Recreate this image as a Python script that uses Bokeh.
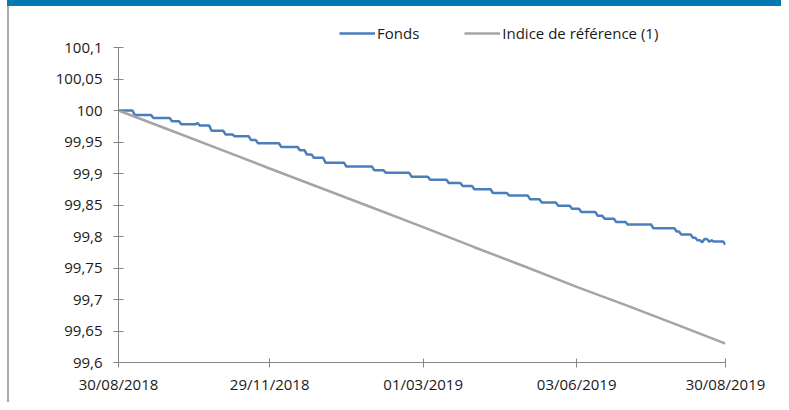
from bokeh.plotting import figure
from bokeh.models import Range1d, FixedTicker, Legend, LegendItem
from bokeh.embed import file_html
from bokeh.resources import INLINE

# --- data (business-day index from 30/08/2018) ---
x_tick_days = [0, 65, 131, 197, 261]
x_tick_labels = ["30/08/2018", "29/11/2018", "01/03/2019", "03/06/2019", "30/08/2019"]

y_ticks = [99.6, 99.65, 99.7, 99.75, 99.8, 99.85, 99.9, 99.95, 100.0, 100.05, 100.1]
y_labels = ["99,6", "99,65", "99,7", "99,75", "99,8", "99,85", "99,9", "99,95", "100", "100,05", "100,1"]

fonds_day = [0, 7, 15, 23, 27, 34, 35, 40, 46, 50, 57, 60, 70, 78, 81, 84, 89, 98, 110, 115,
             126, 134, 142, 148, 153, 161, 168, 177, 182, 189, 195, 199, 206, 209, 214, 219,
             230, 240, 242, 247, 249, 251, 252, 254, 255, 256, 261]
fonds_val = [100.000, 99.993, 99.988, 99.983, 99.978, 99.980, 99.976, 99.968, 99.962, 99.959,
             99.953, 99.948, 99.942, 99.937, 99.930, 99.925, 99.917, 99.911, 99.905, 99.901,
             99.895, 99.890, 99.885, 99.880, 99.875, 99.869, 99.865, 99.859, 99.854, 99.849,
             99.844, 99.839, 99.833, 99.828, 99.823, 99.819, 99.813, 99.808, 99.803, 99.798,
             99.794, 99.791, 99.796, 99.792, 99.794, 99.792, 99.787]

indice_day = [0, 22, 44, 65, 87, 109, 131, 153, 175, 197, 219, 240, 261]
indice_val = [100.000, 99.969, 99.938, 99.908, 99.877, 99.846, 99.815, 99.783, 99.752,
              99.720, 99.690, 99.660, 99.630]

# build the stepped Fonds path (each change spread over one business day)
fx, fy = [fonds_day[0]], [fonds_val[0]]
for i in range(1, len(fonds_day)):
    fx += [fonds_day[i] - 1, fonds_day[i]]
    fy += [fonds_val[i - 1], fonds_val[i]]

FONT = "Open Sans"
AXIS_COL = "#868686"
TXT_COL = "#1a1a1a"

FRAME_TOP = 10          # px from top of figure
FRAME_BOTTOM = 362      # px from top of figure
Y_MIN, Y_MAX_TICK = 99.6, 100.1
PX_PER_UNIT = 630.0
y_top = Y_MIN + (FRAME_BOTTOM - FRAME_TOP) / PX_PER_UNIT

p = figure(width=781, height=402, output_backend="svg", toolbar_location=None,
           x_range=Range1d(0, 261), y_range=Range1d(Y_MIN, y_top),
           min_border_left=118, min_border_right=56, min_border_top=FRAME_TOP,
           min_border_bottom=402 - FRAME_BOTTOM)
p.outline_line_color = None
p.grid.visible = False
p.background_fill_color = "white"
p.border_fill_color = None
# page decoration: blue title band (cut at the top) and the grey frame line on the left
p.styles = {
    "background": "linear-gradient(#0479b2, #0479b2) 7px 0 / 100% 6px no-repeat, "
                  "linear-gradient(#a9a9a9, #a9a9a9) 7px 6px / 2px 100% no-repeat, #ffffff"
}

r_fonds = p.line(fx, fy, line_color="#4a7ebb", line_width=2.5)
r_ind = p.line(indice_day, indice_val, line_color="#a5a5a5", line_width=2.5)

# axes
for ax in (p.xaxis[0], p.yaxis[0]):
    ax.axis_line_color = AXIS_COL
    ax.major_tick_line_color = AXIS_COL
    ax.minor_tick_line_color = None
    ax.major_label_text_font = FONT
    ax.major_label_text_font_size = "15px"
    ax.major_label_text_color = TXT_COL

p.xaxis.ticker = FixedTicker(ticks=x_tick_days)
p.xaxis.major_label_overrides = dict(zip(x_tick_days, x_tick_labels))
p.xaxis.major_tick_in = 4
p.xaxis.major_tick_out = 5
p.xaxis.major_label_standoff = 6

p.yaxis.ticker = FixedTicker(ticks=y_ticks)
p.yaxis.major_label_overrides = dict(zip(y_ticks, y_labels))
p.yaxis.bounds = (Y_MIN, Y_MAX_TICK)
p.yaxis.major_tick_in = 5
p.yaxis.major_tick_out = 5
p.yaxis.major_label_standoff = 11

legend = Legend(items=[LegendItem(label="Fonds", renderers=[r_fonds]),
                       LegendItem(label="Indice de référence (1)", renderers=[r_ind])],
                location=(221, 319), orientation="horizontal",
                label_text_font=FONT, label_text_font_size="15px", label_text_color=TXT_COL,
                glyph_width=36, glyph_height=20, label_height=20, label_standoff=2,
                spacing=45, padding=0, margin=0,
                border_line_color=None, background_fill_alpha=0)
p.add_layout(legend, "center")

open("out.html", "w").write(file_html(p, INLINE))
